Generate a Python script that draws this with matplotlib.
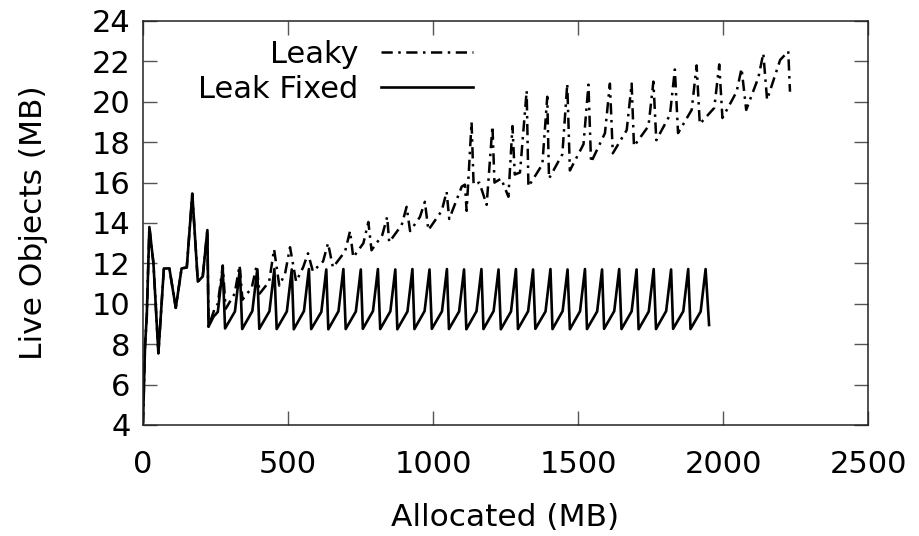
import matplotlib
matplotlib.use('Agg')
import matplotlib.pyplot as plt

# === Data ===
# shared warm-up part, both runs
start_x = [0, 7, 13, 22, 36, 53, 72, 91, 113, 133, 151, 170, 189, 206, 222, 226]
start_y = [4.1, 7.9, 9.4, 13.8, 12.0, 7.55, 11.75, 11.75, 9.8, 11.75, 11.8, 15.45, 11.1, 11.35, 13.65, 8.87]

# leak fixed: steady sawtooth
fixed_x = [243, 258, 275,
           283, 317, 334, 342, 377, 394, 401, 436, 453, 461, 496, 513, 520, 555, 572,
           580, 615, 632, 639, 674, 691, 699, 734, 751, 758, 793, 810, 818, 853, 870,
           877, 912, 929, 936, 971, 988, 996, 1031, 1048, 1055, 1090, 1107, 1115, 1150, 1167,
           1174, 1209, 1226, 1234, 1269, 1286, 1293, 1328, 1345, 1353, 1388, 1405,
           1412, 1447, 1464, 1472, 1507, 1524, 1531, 1566, 1583, 1590, 1625, 1642,
           1650, 1685, 1702, 1709, 1744, 1761, 1769, 1804, 1821, 1828, 1863, 1880,
           1888, 1923, 1940, 1952]
fixed_y = [9.36, 9.6, 11.75,
           8.78, 9.62, 11.72, 8.75, 9.64, 11.7, 8.76, 9.63, 11.72, 8.75, 9.62, 11.7, 8.74, 9.64, 11.72,
           8.75, 9.6, 11.7, 8.74, 9.63, 11.72, 8.75, 9.62, 11.7, 8.76, 9.64, 11.72, 8.75, 9.63, 11.7,
           8.74, 9.62, 11.72, 8.75, 9.64, 11.7, 8.76, 9.63, 11.72, 8.75, 9.62, 11.7, 8.74, 9.63, 11.72,
           8.75, 9.64, 11.7, 8.74, 9.62, 11.72, 8.75, 9.63, 11.7, 8.76, 9.62, 11.72,
           8.75, 9.64, 11.7, 8.74, 9.63, 11.72, 8.75, 9.62, 11.7, 8.76, 9.64, 11.72,
           8.75, 9.63, 11.7, 8.74, 9.62, 11.72, 8.75, 9.64, 11.7, 8.76, 9.63, 11.72,
           8.75, 9.62, 11.72, 8.95]

# leaky: sawtooth on a rising baseline
leaky_x = [248, 258, 275,
           285, 316, 333, 343, 375, 392, 402, 435, 452, 470, 490, 507, 528, 552, 569,
           586, 621, 638, 655, 697, 714, 725, 760, 777, 788, 825, 842, 849, 892, 909,
           921, 955, 972, 984, 1030, 1047, 1056, 1099, 1110, 1116, 1133, 1140, 1160, 1185, 1205,
           1212, 1235, 1260, 1274, 1282, 1300, 1323, 1329, 1377, 1394, 1400, 1446, 1463,
           1472, 1519, 1536, 1545, 1593, 1610, 1620, 1668, 1685, 1693, 1743, 1760,
           1770, 1817, 1834, 1845, 1892, 1909, 1920, 1970, 1987, 1998, 2047, 2064,
           2080, 2122, 2139, 2152, 2197, 2225, 2231]
leaky_y = [9.8, 10.0, 11.9,
           9.75, 10.5, 11.9, 10.2, 10.8, 11.9, 10.5, 11.1, 12.7, 10.9, 11.5, 12.8, 11.1, 11.8, 12.5,
           11.6, 12.1, 13.0, 11.8, 12.6, 13.6, 12.3, 13.0, 14.05, 12.65, 13.4, 14.3, 13.05, 13.9, 14.8,
           13.6, 14.3, 15.05, 13.65, 14.6, 15.55, 14.2, 15.8, 15.9, 14.6, 19.0, 15.9, 16.0, 14.9, 18.8,
           16.0, 16.2, 15.3, 18.8, 16.4, 16.5, 20.55, 15.8, 16.9, 20.25, 16.2, 17.4, 20.9,
           16.6, 17.9, 20.85, 17.0, 18.45, 20.9, 17.45, 18.6, 20.9, 17.8, 18.8, 21.0,
           18.1, 19.35, 21.6, 18.45, 19.6, 21.8, 18.9, 19.7, 21.85, 19.2, 20.5, 21.65,
           19.6, 21.2, 22.4, 20.1, 22.07, 22.5, 20.5]

x_ticks = [0, 500, 1000, 1500, 2000, 2500]
y_ticks = [4, 6, 8, 10, 12, 14, 16, 18, 20, 22, 24]

# === Plot ===
fig = plt.figure(figsize=(9.19, 5.36), dpi=100)
ax = fig.add_axes([143 / 919, 1 - 425 / 536, (868 - 143) / 919, (425 - 21) / 536])

ax.plot(start_x + leaky_x, start_y + leaky_y, color='black', lw=1.8,
        dashes=(4.5, 2.2, 1, 2.2), label='Leaky')
ax.plot(start_x + fixed_x, start_y + fixed_y, color='black', lw=1.9,
        label='Leak Fixed')

ax.set_xlim(0, 2500)
ax.set_ylim(4, 24)
ax.set_xticks(x_ticks)
ax.set_yticks(y_ticks)
ax.tick_params(direction='in', length=10, width=1, color='#555555',
               top=True, right=True, labelsize=22)
ax.tick_params(axis='y', pad=9)
ax.tick_params(axis='x', pad=18)
for s in ax.spines.values():
    s.set_color('#222222')
    s.set_linewidth(1.1)

ax.set_xlabel('Allocated (MB)', fontsize=22.5)
ax.set_ylabel('Live Objects (MB)', fontsize=22.5)
ax.xaxis.set_label_coords(0.5, (425 - 503) / 404)
ax.yaxis.set_label_coords((48 - 143) / 725, 0.5)

ax.legend(loc='upper right', bbox_to_anchor=(473 / 919, 1 - 40 / 536),
          bbox_transform=fig.transFigure, frameon=False, markerfirst=False,
          fontsize=22, handlelength=3.0, handletextpad=0.75, borderpad=0,
          borderaxespad=0, labelspacing=0.2)

fig.savefig('out.png', dpi=100)
